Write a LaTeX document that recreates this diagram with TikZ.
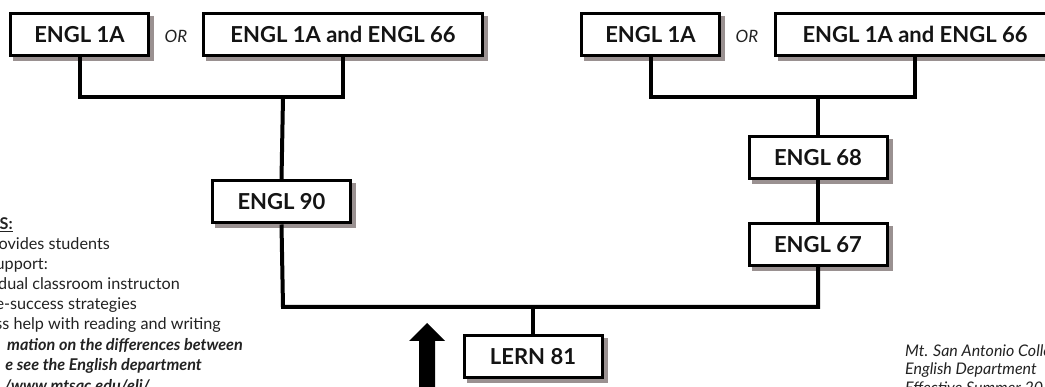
\documentclass[tikz,border=0pt]{standalone}
\usepackage{fontspec}
\setmainfont{Lato}
\definecolor{shadowgray}{HTML}{9A9191}
\definecolor{txt}{HTML}{222222}
\begin{document}
\begin{tikzpicture}[x=1pt,y=-1pt,
  course/.style={draw=black, line width=3pt, fill=white, minimum height=42pt, inner sep=0pt,
    font=\fontsize{22}{26}\selectfont\bfseries, text=black!92},
  smallbox/.style={course, minimum width=138pt},
  widebox/.style={course, minimum width=279pt},
  shadowsmall/.style={draw=shadowgray, fill=shadowgray, line width=3pt, minimum height=42pt, minimum width=138pt, inner sep=0pt},
  shadowwide/.style={shadowsmall, minimum width=279pt},
  link/.style={line width=4pt, draw=black},
  orlabel/.style={font=\fontsize{17}{20}\selectfont\itshape, text=txt, inner sep=0pt},
  note/.style={font=\fontsize{16.2}{20}\selectfont, text=txt, anchor=base east, inner sep=0pt},
  credit/.style={font=\fontsize{16}{19}\selectfont\itshape, text=txt, anchor=base west, inner sep=0pt}
]
\useasboundingbox (0,0) rectangle (1045,387);
\clip (0,0) rectangle (1045,387);

% drop shadows (offset 4px right and down)
\node[shadowsmall] (sl1) at (83.5,38.5) {};
\node[shadowwide]  (sl2) at (347,38.5) {};
\node[shadowsmall] (sr1) at (654.5,38.5) {};
\node[shadowwide]  (sr2) at (919,38.5) {};
\node[shadowsmall] (s90) at (285.5,206) {};
\node[shadowsmall] (s68) at (822,162) {};
\node[shadowsmall] (s67) at (822,248.5) {};
\node[shadowsmall] (slern) at (537,360.5) {};

% course boxes
\node[smallbox] (l1) at (79.5,34.5) {ENGL 1A};
\node[widebox]  (l2) at (343,34.5) {ENGL 1A and ENGL 66};
\node[smallbox] (r1) at (650.5,34.5) {ENGL 1A};
\node[widebox]  (r2) at (915,34.5) {ENGL 1A and ENGL 66};
\node[smallbox] (e90) at (281.5,202) {ENGL 90};
\node[smallbox] (e68) at (818,158) {ENGL 68};
\node[smallbox] (e67) at (818,244.5) {ENGL 67};
\node[smallbox] (lern) at (533,356.5) {LERN 81};

% OR labels
\node[orlabel] (orl) at (176,36) {OR};
\node[orlabel] (orr) at (747,36) {OR};

% junctions
\coordinate (jl) at (283,97);
\coordinate (jr) at (818,97);
\coordinate (jb) at (283,307);
\coordinate (jlern) at (533,307);

% connectors
\draw[link] (l1.south) |- (jl) -| (l2.south);
\draw[link] (jl) -- (e90.north);
\draw[link] (r1.south) |- (jr) -| (r2.south);
\draw[link] (jr) -- (e68.north);
\draw[link] (e68.south) -- (e67.north);
\draw[link] (e90.south) -- (jb) -| (e67.south);
\draw[link] (jlern) -- (lern.north);

% big arrow
\fill[black] (427,323) -- (445,341) -- (435,341) -- (435,395) -- (419,395) -- (419,341) -- (409,341) -- cycle;

% left notes (clipped at the left edge)
\node[note] (n0) at (13,230) {\bfseries\underline{S:}};
\node[note] (n1) at (110,250) {rovides students};
\node[note] (n2) at (48,270) {upport:};
\node[note] (n3) at (180,290) {dual classroom instructon};
\node[note] (n4) at (137,310) {ge-success strategies};
\node[note] (n5) at (221,330) {ss help with reading and writing};
\node[note] (n6) at (243,351) {\bfseries\itshape mation on the differences between};
\node[note] (n7) at (202,371) {\bfseries\itshape e see the English department};
\node[note] (n8) at (150,392) {\bfseries\itshape /www.mtsac.edu/eli/};

% credit (clipped at the right edge)
\node[credit] (c1) at (905,357) {Mt. San Antonio Colle};
\node[credit] (c2) at (905,375) {English Department};
\node[credit] (c3) at (905,394) {Effective Summer 20};
\end{tikzpicture}
\end{document}
